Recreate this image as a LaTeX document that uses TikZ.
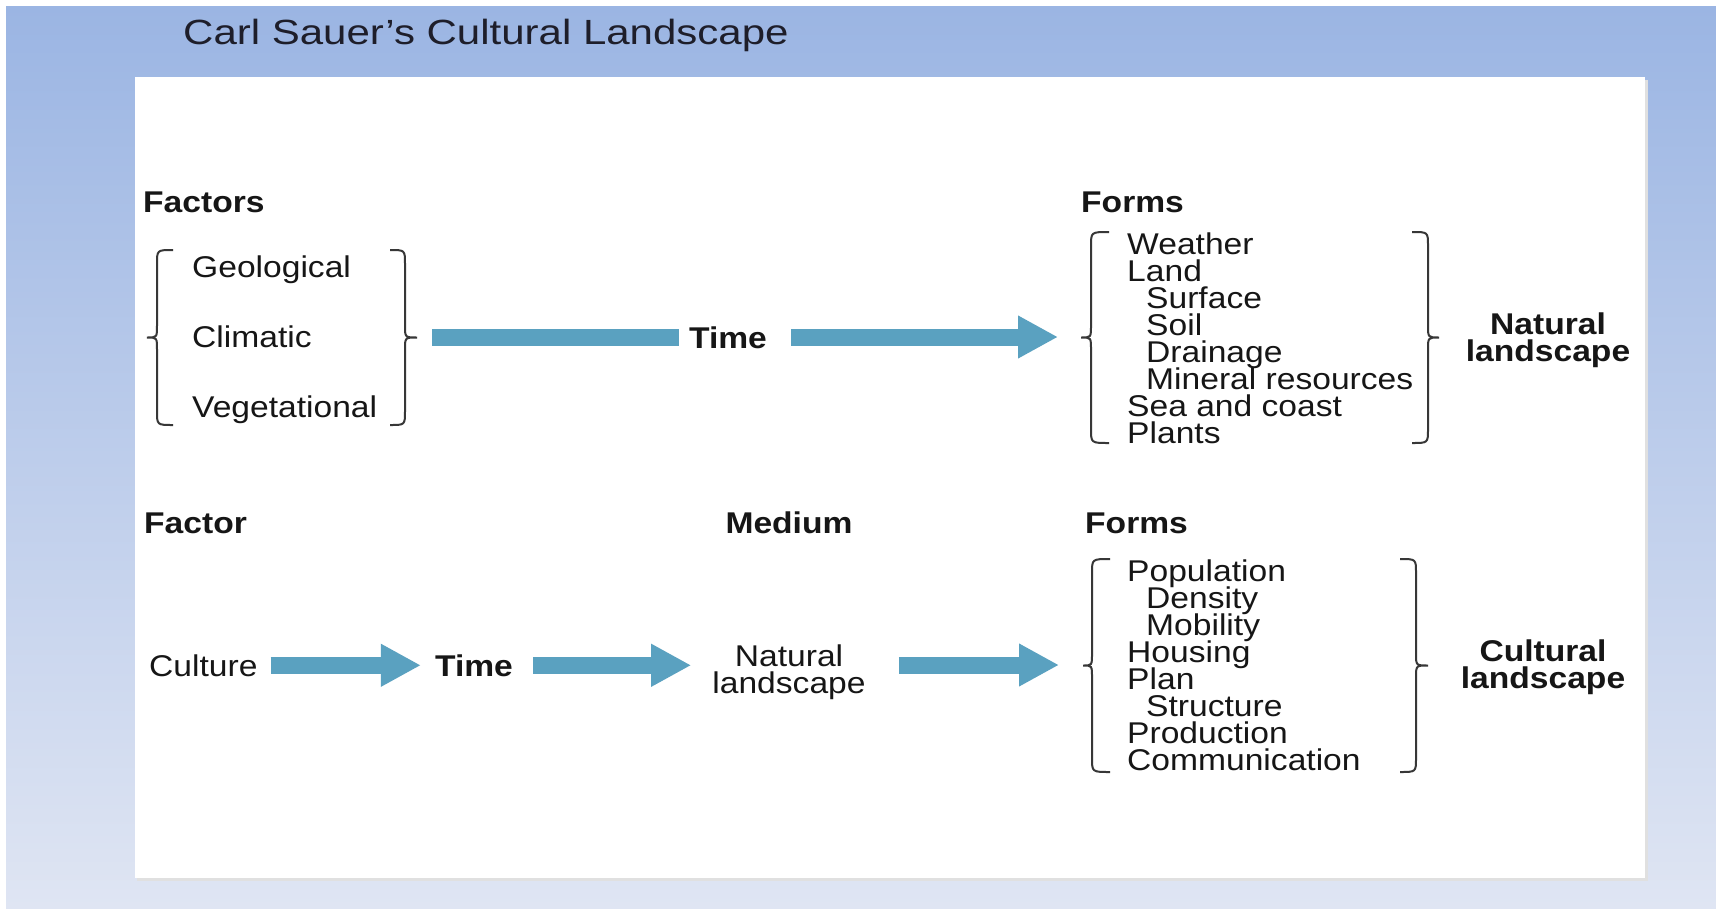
\documentclass[tikz,border=0pt]{standalone}
\usepackage{fontspec}
\setmainfont{Liberation Sans}[FakeStretch=1.12]
\newfontfamily\titlefont{Liberation Sans}[FakeStretch=1.2]
\usetikzlibrary{arrows.meta}
\definecolor{bgtop}{RGB}{155,181,227}
\definecolor{bgbot}{RGB}{223,229,243}
\definecolor{arrowblue}{RGB}{90,161,192}
\definecolor{ink}{RGB}{22,22,22}
\definecolor{titleink}{RGB}{30,30,42}
\definecolor{bracec}{RGB}{55,55,55}
\newcommand{\SauerBrace}[5]{%
  \draw[bracestyle] (#1,#4) .. controls (#2,#4) .. (#2,{#4+14})
    -- (#2,{(#4+#5)/2-12}) .. controls (#2,{(#4+#5)/2}) .. (#3,{(#4+#5)/2})
    .. controls (#2,{(#4+#5)/2}) .. (#2,{(#4+#5)/2+12})
    -- (#2,{#5-14}) .. controls (#2,#5) .. (#1,#5);}
\begin{document}
\begin{tikzpicture}[x=1pt,y=-1pt,
  txt/.style={inner sep=0pt, text=ink, font=\fontsize{30}{27}\selectfont},
  bold/.style={inner sep=0pt, text=ink, font=\fontsize{30}{27}\selectfont\bfseries},
  item/.style={txt, anchor=base west},
  bracestyle/.style={draw=bracec, line width=2pt},
  barline/.style={draw=arrowblue, line width=17pt},
  fat/.style={draw=arrowblue, line width=17pt, -{Triangle[length=40pt,width=40pt]}}]
\useasboundingbox (0,0) rectangle (1716,908);
% background
\fill[white] (0,0) rectangle (1716,908);
\shade[top color=bgtop, bottom color=bgbot] (6,6) rectangle (1716,908);
\fill[black!12] (137,80) rectangle (1648,881);
\fill[white] (135,77) rectangle (1645,878);
% title
\node[anchor=base west, inner sep=0pt, text=titleink, font=\titlefont\fontsize{35}{40}\selectfont] (title) at (183,44) {Carl Sauer’s Cultural Landscape};
% ---------- top row ----------
\node[bold, anchor=base west] (factors) at (143,212) {Factors};
\node[item] (geo) at (192,277) {Geological};
\node[item] (cli) at (192,347) {Climatic};
\node[item] (veg) at (192,417) {Vegetational};
\SauerBrace{173}{157}{147}{250}{425}
\SauerBrace{390}{405}{417}{250}{425}
\coordinate (rb1) at (417,337);
\node[bold, anchor=base] (time1) at (728,348) {Time};
\node[bold, anchor=base west] (forms1) at (1081,212) {Forms};
\SauerBrace{1109}{1091}{1081}{232}{443}
\SauerBrace{1412}{1428}{1439}{232}{443}
\coordinate (lb2) at (1081,337);
\foreach \t/\ind [count=\i] in {Weather/0, Land/0, Surface/19, Soil/19, Drainage/19, Mineral resources/19, Sea and coast/0, Plants/0}
  \node[item] (nf\i) at ({1127+\ind},{254+27.1*(\i-1)}) {\t};
\node[bold, align=center] (natland) at (1548,340) {Natural\\landscape};
\draw[barline, shorten <=15pt, shorten >=10pt] (rb1) -- (rb1 -| time1.west);
\draw[fat, shorten <=24pt, shorten >=23pt] (time1.east |- lb2) -- (lb2);
% ---------- bottom row ----------
\node[bold, anchor=base west] (factor) at (144,533) {Factor};
\node[bold, anchor=base] (medium) at (789,533) {Medium};
\node[bold, anchor=base west] (forms2) at (1085,533) {Forms};
\node[item] (culture) at (149,676) {Culture};
\node[bold, anchor=base] (time2) at (474,676) {Time};
\node[txt, align=center] (nat2) at (789,672) {Natural\\landscape};
\SauerBrace{1110}{1092}{1083}{559}{772}
\SauerBrace{1400}{1416}{1428}{559}{772}
\coordinate (lb3) at (1083,665);
\foreach \t/\ind [count=\i] in {Population/0, Density/19, Mobility/19, Housing/0, Plan/0, Structure/19, Production/0, Communication/0}
  \node[item] (nc\i) at ({1127+\ind},{581+27.1*(\i-1)}) {\t};
\node[bold, align=center] (cultland) at (1543,667) {Cultural\\landscape};
\draw[fat, shorten <=13pt, shorten >=14pt] (culture.east) -- (culture.east -| time2.west);
\draw[fat, shorten <=20pt, shorten >=21pt] (time2.east) -- (time2.east -| nat2.west);
\draw[fat, shorten <=33pt, shorten >=24pt] (lb3 -| nat2.east) -- (lb3);
\end{tikzpicture}
\end{document}
